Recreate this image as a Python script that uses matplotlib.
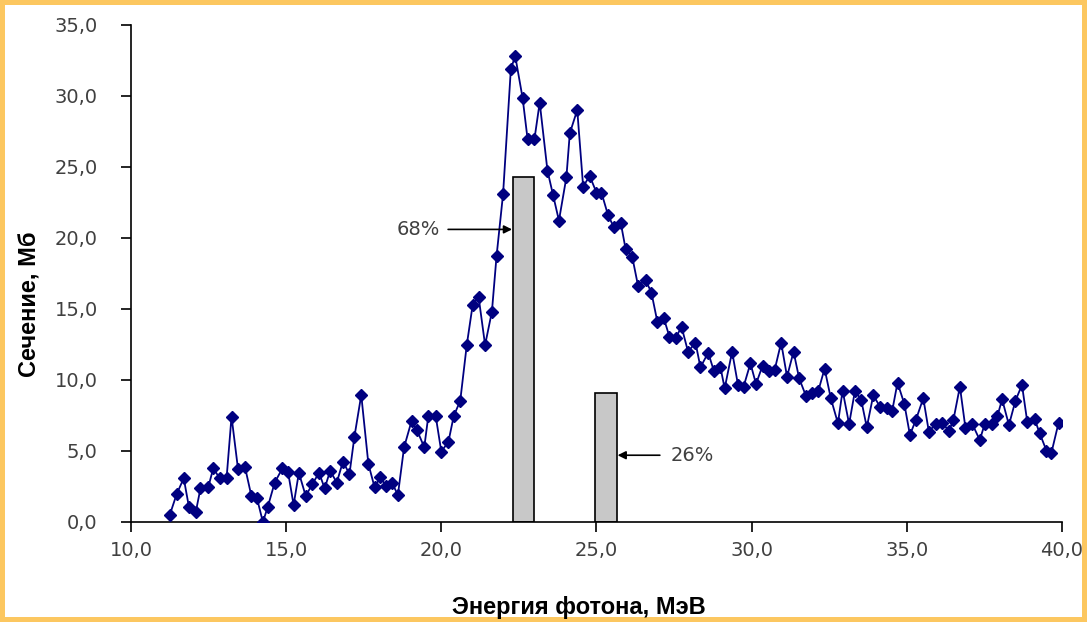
import numpy as np
import matplotlib.pyplot as plt
from matplotlib.ticker import FuncFormatter

# photon energy, MeV
energy = [11.25, 11.47, 11.70, 11.87, 12.09, 12.24, 12.49, 12.65, 12.86, 13.08,
          13.24, 13.45, 13.67, 13.88, 14.06, 14.25, 14.41, 14.63, 14.88, 15.06,
          15.24, 15.41, 15.63, 15.84, 16.06, 16.24, 16.42, 16.63, 16.83, 17.04,
          17.20, 17.42, 17.65, 17.85, 18.03, 18.22, 18.41, 18.60, 18.80, 19.04,
          19.21, 19.45, 19.58, 19.82, 20.00, 20.23, 20.40, 20.61, 20.82, 21.01,
          21.20, 21.41, 21.63, 21.78, 21.99, 22.24, 22.38, 22.62, 22.78, 23.00,
          23.17, 23.42, 23.60, 23.79, 24.03, 24.14, 24.38, 24.57, 24.78, 25.00,
          25.16, 25.37, 25.56, 25.78, 25.94, 26.15, 26.34, 26.58, 26.77, 26.96,
          27.17, 27.35, 27.55, 27.74, 27.95, 28.19, 28.35, 28.60, 28.78, 28.99,
          29.13, 29.37, 29.56, 29.74, 29.96, 30.14, 30.35, 30.55, 30.74, 30.95,
          31.14, 31.35, 31.53, 31.75, 31.96, 32.15, 32.35, 32.55, 32.78, 32.93,
          33.14, 33.33, 33.53, 33.71, 33.92, 34.14, 34.35, 34.53, 34.70, 34.92,
          35.10, 35.29, 35.53, 35.71, 35.93, 36.14, 36.36, 36.50, 36.71, 36.89,
          37.11, 37.35, 37.51, 37.75, 37.92, 38.07, 38.29, 38.50, 38.71, 38.88,
          39.12, 39.28, 39.50, 39.66, 39.89]

# cross section, mb
sigma = [0.50, 1.95, 3.08, 1.03, 0.73, 2.37, 2.44, 3.78, 3.08, 3.08,
         7.42, 3.71, 3.90, 1.83, 1.67, 0.00, 1.08, 2.77, 3.78, 3.54,
         1.20, 3.47, 1.83, 2.65, 3.47, 2.37, 3.61, 2.77, 4.25, 3.38,
         6.01, 8.94, 4.08, 2.44, 3.15, 2.54, 2.77, 1.90, 5.26, 7.10,
         6.50, 5.26, 7.44, 7.44, 4.95, 5.66, 7.46, 8.54, 12.46, 15.28,
         15.87, 12.46, 14.81, 18.73, 23.10, 31.88, 32.82, 29.84, 26.95, 26.95,
         29.53, 24.74, 23.03, 21.22, 24.27, 27.37, 29.01, 23.61, 24.37, 23.19,
         23.19, 21.62, 20.75, 21.08, 19.20, 18.69, 16.62, 17.04, 16.15, 14.11,
         14.34, 13.05, 12.94, 13.75, 11.99, 12.63, 10.89, 11.92, 10.65, 10.94,
         9.41, 11.99, 9.65, 9.53, 11.17, 9.72, 10.99, 10.65, 10.70, 12.63,
         10.23, 11.99, 10.12, 8.87, 9.11, 9.25, 10.80, 8.71, 6.95, 9.25,
         6.90, 9.25, 8.59, 6.67, 8.94, 8.08, 8.00, 7.84, 9.81, 8.31,
         6.13, 7.18, 8.71, 6.36, 6.90, 6.95, 6.43, 7.18, 9.53, 6.60,
         6.90, 5.77, 6.90, 6.90, 7.46, 8.64, 6.83, 8.54, 9.65, 7.06,
         7.23, 6.25, 5.02, 4.88, 6.99]

# partial cross sections shown as bars
bar_x = [22.65, 25.3]
bar_h = [24.3, 9.1]
bar_labels = ['68%', '26%']

plt.rcParams['font.family'] = ['DejaVu Sans']

fig = plt.figure(figsize=(10.87, 6.22), dpi=100)
fig.patch.set_facecolor('white')
fig.patch.set_edgecolor('#fcc760')
fig.patch.set_linewidth(6)

ax = fig.add_axes([0.1205, 0.1608, 0.8565, 0.7992])

ax.bar(bar_x, bar_h, width=0.7, color='#c8c8c8', edgecolor='black',
       linewidth=1.2, zorder=2)
ax.plot(energy, sigma, color='#000080', lw=1.3, marker='D', ms=6.5,
        mec='#000080', mfc='#000080', zorder=3)

# arrows pointing to the bars
ax.annotate(bar_labels[0], xy=(22.28, 20.6), xytext=(19.95, 20.6),
            ha='right', va='center', fontsize=14, color='#404040',
            arrowprops=dict(arrowstyle='-|>', color='black', lw=1.2,
                            mutation_scale=12, shrinkA=4, shrinkB=0))
ax.annotate(bar_labels[1], xy=(25.68, 4.7), xytext=(27.4, 4.7),
            ha='left', va='center', fontsize=14, color='#404040',
            arrowprops=dict(arrowstyle='-|>', color='black', lw=1.2,
                            mutation_scale=12, shrinkA=6, shrinkB=0))

ax.set_xlim(10, 40)
ax.set_ylim(0, 35)
ax.set_xticks(np.arange(10, 41, 5))
ax.set_yticks(np.arange(0, 36, 5))
comma = FuncFormatter(lambda v, p: f'{v:.1f}'.replace('.', ','))
ax.xaxis.set_major_formatter(comma)
ax.yaxis.set_major_formatter(comma)

for s in ['top', 'right']:
    ax.spines[s].set_visible(False)
for s in ['left', 'bottom']:
    ax.spines[s].set_linewidth(1.2)
    ax.spines[s].set_color('black')
ax.tick_params(axis='both', direction='out', length=7, width=1.2,
               labelsize=14, labelcolor='#404040')
ax.tick_params(axis='y', pad=17)
ax.tick_params(axis='x', pad=7)

ax.set_xlabel('Энергия фотона, МэВ', fontsize=17, fontweight='bold',
              family='Liberation Sans')
ax.set_ylabel('Сечение, Мб', fontsize=17, fontweight='bold',
              family='Liberation Sans')
ax.xaxis.set_label_coords(0.481, -0.148)
ax.yaxis.set_label_coords(-0.096, 0.437)

fig.savefig('out.png', dpi=100, edgecolor=fig.get_edgecolor())
